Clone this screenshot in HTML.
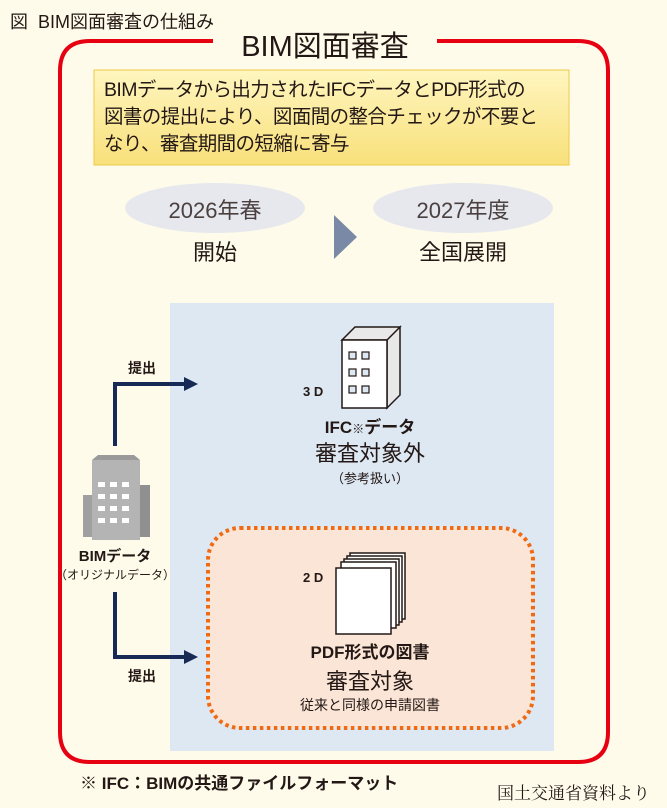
<!DOCTYPE html>
<html><head><meta charset="utf-8"><style>
body{margin:0;width:667px;height:808px;background:#fefbea;position:relative;overflow:hidden;font-family:"Liberation Sans","Noto Sans CJK JP",sans-serif;color:#231815}
.a{position:absolute;white-space:nowrap}
.c{text-align:center}
</style></head><body>
<svg class="a" style="left:0;top:0" width="667" height="808">
<path d="M213 41 H90 Q60 41 60 71 V732 Q60 762 90 762 H578 Q608 762 608 732 V71 Q608 41 578 41 H437" fill="none" stroke="#e60012" stroke-width="4"/>
<defs><linearGradient id="g" x1="0" y1="0" x2="0" y2="1"><stop offset="0" stop-color="#fff6c0"/><stop offset="1" stop-color="#f8e07a"/></linearGradient></defs>
<rect x="94" y="70" width="475" height="95" fill="url(#g)" stroke="#f0c84a" stroke-width="1"/>
<ellipse cx="215" cy="208" rx="90" ry="25" fill="#e6e8ee"/>
<ellipse cx="463" cy="208" rx="90" ry="25" fill="#e6e8ee"/>
<path d="M334 215 L357 237 L334 259 Z" fill="#7a8aa6"/>
<rect x="170" y="303" width="384" height="448" fill="#dde8f3"/>
<rect x="208" y="528" width="325" height="200" rx="32" fill="#fbe5d6" stroke="#f06a14" stroke-width="4" stroke-dasharray="3.5 3.5"/>
<path d="M115 446 V384 H185" fill="none" stroke="#172a55" stroke-width="4"/>
<path d="M184 377 L198 384 L184 391 Z" fill="#172a55"/>
<path d="M115 592 V657 H185" fill="none" stroke="#172a55" stroke-width="4"/>
<path d="M184 650 L198 657 L184 664 Z" fill="#172a55"/>
<rect x="83" y="495" width="18" height="42" fill="#a0a0a0"/>
<rect x="132" y="485" width="18" height="52" fill="#909090"/>
<rect x="92" y="460" width="48" height="80" fill="#b4b4b4"/>
<path d="M92 460 L98 455 H134 L140 460Z" fill="#9a9a9a"/>
<g fill="#fff">
<rect x="98" y="482" width="7" height="5"/><rect x="110" y="482" width="7" height="5"/><rect x="122" y="482" width="7" height="5"/>
<rect x="98" y="494" width="7" height="5"/><rect x="110" y="494" width="7" height="5"/><rect x="122" y="494" width="7" height="5"/>
<rect x="98" y="506" width="7" height="5"/><rect x="110" y="506" width="7" height="5"/><rect x="122" y="506" width="7" height="5"/>
<rect x="98" y="518" width="7" height="5"/><rect x="110" y="518" width="7" height="5"/><rect x="122" y="518" width="7" height="5"/>
</g>
<path d="M342 340 L355 327 H400 L387 340Z M387 340 L400 327 V395 L387 408Z" fill="#e8e8e8" stroke="#231815" stroke-width="1.5"/>
<rect x="342" y="340" width="45" height="68" fill="#fff" stroke="#231815" stroke-width="1.5"/>
<g fill="#dde8f3" stroke="#231815" stroke-width="1.2">
<rect x="349" y="352" width="7" height="7"/><rect x="362" y="352" width="7" height="7"/>
<rect x="349" y="369" width="7" height="7"/><rect x="362" y="369" width="7" height="7"/>
<rect x="349" y="386" width="7" height="7"/><rect x="362" y="386" width="7" height="7"/>
</g>
<g fill="#fff" stroke="#231815" stroke-width="1.5">
<rect x="350" y="553" width="55" height="66"/><rect x="347" y="556" width="55" height="66"/><rect x="344" y="559" width="55" height="66"/><rect x="341" y="562" width="55" height="66"/><rect x="336" y="568" width="55" height="66"/>
</g>
</svg>
<div class="a c" style="left:213px;width:224px;top:30px;font-size:29px;line-height:34px">BIM図面審査</div>
<div class="a" style="left:10px;top:8px;font-size:18px">図&nbsp; BIM図面審査の仕組み</div>
<div class="a" style="left:104px;top:77px;font-size:19.5px;line-height:27px;letter-spacing:-0.6px">BIMデータから出力されたIFCデータとPDF形式の<br>図書の提出により、図面間の整合チェックが不要と<br>なり、審査期間の短縮に寄与</div>
<div class="a c" style="left:125px;width:180px;top:193px;font-size:22px;color:#4a4040">2026年春</div>
<div class="a c" style="left:373px;width:180px;top:193px;font-size:22px;color:#4a4040">2027年度</div>
<div class="a c" style="left:125px;width:180px;top:235px;font-size:22px">開始</div>
<div class="a c" style="left:373px;width:180px;top:235px;font-size:22px">全国展開</div>
<div class="a" style="left:128px;top:358px;font-size:14px;font-weight:bold">提出</div>
<div class="a" style="left:128px;top:666px;font-size:14px;font-weight:bold">提出</div>
<div class="a" style="left:303px;top:384px;font-size:13px;font-weight:bold">3 D</div>
<div class="a" style="left:303px;top:570px;font-size:13px;font-weight:bold">2 D</div>
<div class="a c" style="left:270px;width:200px;top:413px;font-size:17px;font-weight:bold">IFC<span style="font-size:12px">※</span>データ</div>
<div class="a c" style="left:270px;width:200px;top:436px;font-size:22px">審査対象外</div>
<div class="a c" style="left:270px;width:200px;top:468px;font-size:13px">（参考扱い）</div>
<div class="a c" style="left:40px;width:150px;top:545px;font-size:15px;font-weight:bold">BIMデータ</div>
<div class="a c" style="left:40px;width:150px;top:566px;font-size:12px">（オリジナルデータ）</div>
<div class="a c" style="left:270px;width:200px;top:638px;font-size:17px;font-weight:bold">PDF形式の図書</div>
<div class="a c" style="left:270px;width:200px;top:664px;font-size:22px">審査対象</div>
<div class="a c" style="left:270px;width:200px;top:695px;font-size:14px">従来と同様の申請図書</div>
<div class="a" style="left:80px;top:769px;font-size:17px;font-weight:bold">※ IFC：BIMの共通ファイルフォーマット</div>
<div class="a" style="left:497px;top:779px;font-size:17px;font-family:'Liberation Serif','Noto Serif CJK SC',serif">国土交通省資料より</div>
</body></html>
